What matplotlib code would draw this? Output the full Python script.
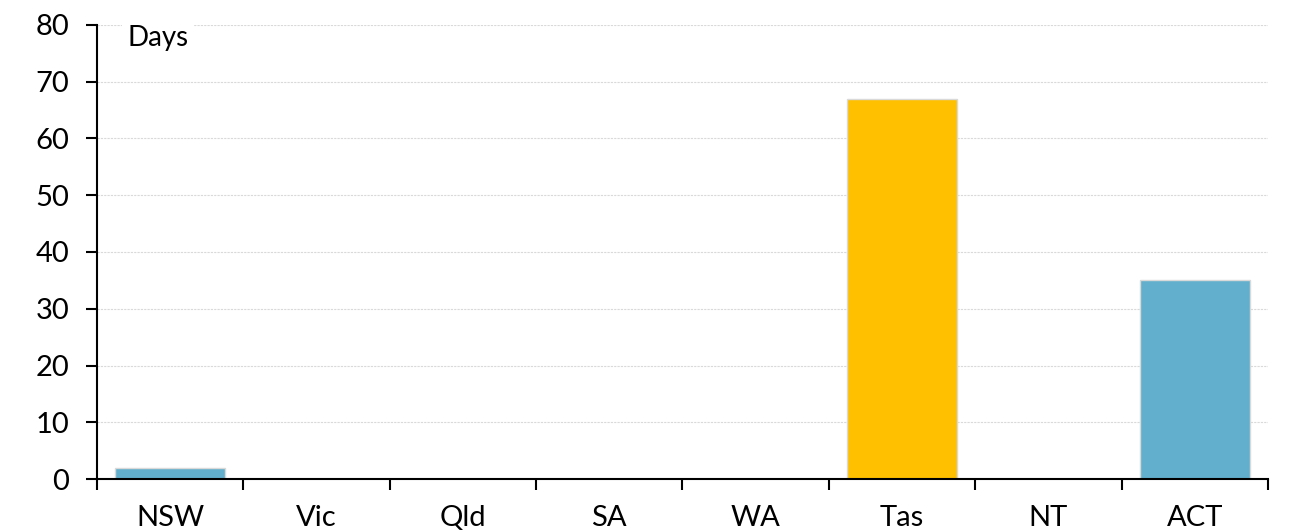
import numpy as np
import matplotlib.pyplot as plt

plt.rcParams['font.family'] = ['Lato', 'DejaVu Sans']

states = ['NSW', 'Vic', 'Qld', 'SA', 'WA', 'Tas', 'NT', 'ACT']
days = [2, 0, 0, 0, 0, 67, 0, 35]
colors = ['#62afcd', '#62afcd', '#62afcd', '#62afcd', '#62afcd', '#ffc000', '#62afcd', '#62afcd']
yticks = [0, 10, 20, 30, 40, 50, 60, 70, 80]

fig = plt.figure(figsize=(12.96, 5.30), dpi=100)
ax = fig.add_axes([97 / 1296, 51 / 530, 1171 / 1296, 454 / 530])

x = np.arange(len(states))
ax.bar(x, days, width=0.75, color=colors, edgecolor='#d9d9d9', linewidth=1, zorder=3)

ax.set_xlim(-0.5, len(states) - 0.5)
ax.set_ylim(0, 80)
ax.set_yticks(yticks)
ax.set_xticks(x)
ax.set_xticklabels(states)
ax.set_xticks(np.arange(len(states) + 1) - 0.5, minor=True)

ax.tick_params(axis='x', which='major', length=0, pad=19, labelsize=21)
ax.tick_params(axis='x', which='minor', length=8, width=1.5, direction='out')
ax.tick_params(axis='y', length=8, width=1.5, pad=12, labelsize=21)

ax.grid(axis='y', color='#d9d9d9', linestyle=(0, (2, 1)), linewidth=0.8, zorder=0)
for s in ['top', 'right']:
    ax.spines[s].set_visible(False)
ax.spines['left'].set_linewidth(1.5)
ax.spines['bottom'].set_linewidth(1.5)
ax.spines['bottom'].set_zorder(4)

ax.text(0.026, 1.0, 'Days', transform=ax.transAxes, fontsize=20, va='top', ha='left',
        bbox=dict(facecolor='white', edgecolor='none', pad=4), zorder=5)

plt.savefig('out.png', dpi=100)
